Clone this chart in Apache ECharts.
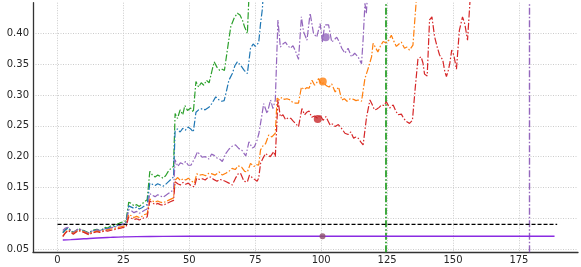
<!DOCTYPE html>
<html>
<head>
<meta charset="utf-8">
<script src="https://cdn.jsdelivr.net/npm/echarts@6/dist/echarts.min.js"></script>
<style>
html,body{margin:0;padding:0;background:#fff;}
#c{width:581px;height:267px;}
</style>
</head>
<body>
<div id="c"></div>
<script>
// ---- data ----
const xTicks = [0, 25, 50, 75, 100, 125, 150, 175];
const yTicks = [0.05, 0.10, 0.15, 0.20, 0.25, 0.30, 0.35, 0.40];

const greenPts = [[2,0.077],[3,0.082],[4,0.085],[5,0.080],[6,0.077],[7,0.080],[8,0.083],[9,0.081],[10,0.080],[11,0.078],[12,0.076],[13,0.080],[14,0.081],[15,0.082],[16,0.080],[17,0.082],[18,0.085],[19,0.084],[20,0.087],[21,0.088],[22,0.089],[23,0.091],[24,0.093],[25,0.094],[26,0.096],[27,0.126],[28,0.124],[29,0.120],[30,0.122],[31,0.119],[32,0.123],[33,0.127],[34,0.130],[35,0.176],[36,0.170],[37,0.167],[38,0.170],[39,0.168],[40,0.165],[41,0.169],[42,0.176],[43,0.181],[44,0.184],[44.6,0.270],[45.5,0.262],[46.5,0.276],[47.5,0.268],[48.3,0.283],[49.3,0.275],[50.5,0.279],[51.5,0.272],[52.5,0.322],[53.5,0.313],[54.5,0.320],[55.5,0.316],[56.5,0.324],[57.5,0.320],[58.5,0.338],[59.4,0.354],[60.5,0.345],[61.5,0.340],[62.5,0.342],[63.3,0.340],[64.4,0.373],[65.7,0.411],[67,0.425],[68.2,0.433],[69.2,0.430],[70.1,0.422],[71,0.410],[72,0.400],[72.6,0.46],[73.5,0.52]];

const bluePts = [[2,0.076],[3,0.081],[4,0.084],[5,0.079],[6,0.076],[7,0.079],[8,0.082],[9,0.080],[10,0.079],[11,0.077],[12,0.075],[13,0.079],[14,0.080],[15,0.081],[16,0.079],[17,0.081],[18,0.083],[19,0.083],[20,0.085],[21,0.086],[22,0.087],[23,0.089],[24,0.090],[25,0.091],[26,0.093],[27,0.120],[28,0.118],[29,0.116],[30,0.118],[31,0.115],[32,0.117],[33,0.120],[34,0.122],[35,0.157],[36,0.155],[37,0.153],[38,0.156],[39,0.154],[40,0.152],[41,0.155],[42,0.159],[43,0.163],[44,0.167],[44.6,0.242],[45.5,0.245],[46.5,0.240],[47.5,0.246],[48.5,0.243],[49.5,0.248],[50.5,0.245],[51.5,0.240],[52.5,0.272],[53.5,0.276],[54.9,0.278],[56,0.276],[57.4,0.280],[58.5,0.286],[60,0.297],[61.3,0.292],[62.3,0.290],[63.2,0.291],[64,0.305],[65,0.324],[66.3,0.335],[67.3,0.348],[68.2,0.354],[69.5,0.348],[70.8,0.340],[72,0.335],[73.2,0.376],[74.2,0.383],[75,0.379],[75.7,0.381],[76.3,0.385],[77,0.416],[77.7,0.44],[78.5,0.5]];

const purplePts = [[2,0.080],[3,0.084],[4,0.085],[5,0.080],[6,0.077],[7,0.080],[8,0.083],[9,0.081],[10,0.079],[11,0.077],[12,0.076],[13,0.079],[14,0.080],[15,0.081],[16,0.080],[17,0.081],[18,0.083],[19,0.082],[20,0.084],[21,0.085],[22,0.086],[23,0.088],[24,0.089],[25,0.090],[26,0.092],[27,0.114],[28,0.112],[29,0.109],[30,0.111],[31,0.108],[32,0.110],[33,0.113],[34,0.115],[35,0.140],[36,0.137],[37,0.135],[38,0.138],[39,0.136],[40,0.134],[41,0.137],[42,0.140],[43,0.143],[44,0.146],[44.6,0.195],[45.6,0.184],[46.6,0.190],[47.6,0.188],[48.6,0.192],[49.6,0.186],[50.6,0.186],[52,0.197],[53.1,0.208],[54,0.203],[54.9,0.199],[56,0.200],[57.4,0.196],[58.4,0.204],[59.4,0.202],[60.4,0.198],[61.3,0.197],[62.5,0.192],[63.8,0.205],[65,0.212],[66.3,0.217],[67.5,0.219],[68.8,0.213],[70,0.210],[71.4,0.201],[72.6,0.224],[73.9,0.214],[74.7,0.216],[75.7,0.227],[76.4,0.238],[77.3,0.262],[78.2,0.286],[79.5,0.270],[80.8,0.292],[81.7,0.278],[82.6,0.292],[83.6,0.422],[84.5,0.378],[85.5,0.383],[86.4,0.386],[87.4,0.380],[88.3,0.376],[89.3,0.380],[90.2,0.372],[91.4,0.358],[92.5,0.427],[93.3,0.403],[94.6,0.389],[95.8,0.433],[97.1,0.400],[98.3,0.394],[99.6,0.416],[100.5,0.386],[101.3,0.414],[102.8,0.414],[104,0.386],[105,0.390],[105.9,0.394],[107,0.385],[107.8,0.376],[109,0.368],[110.2,0.376],[111.5,0.362],[112.7,0.368],[114,0.362],[115.3,0.351],[115.9,0.39],[116.6,0.449],[117.1,0.432],[117.7,0.47]];

const orangePts = [[2,0.071],[3,0.077],[4,0.081],[5,0.078],[6,0.075],[7,0.078],[8,0.081],[9,0.079],[10,0.078],[11,0.076],[12,0.074],[13,0.077],[14,0.078],[15,0.079],[16,0.078],[17,0.079],[18,0.081],[19,0.081],[20,0.082],[21,0.083],[22,0.084],[23,0.085],[24,0.086],[25,0.087],[26,0.088],[27,0.106],[28,0.104],[29,0.101],[30,0.103],[31,0.101],[32,0.103],[33,0.106],[34,0.107],[35,0.131],[36,0.128],[37,0.126],[38,0.128],[39,0.126],[40,0.125],[41,0.127],[42,0.129],[43,0.131],[44,0.133],[44.6,0.162],[45.6,0.166],[46.6,0.161],[47.6,0.164],[48.6,0.162],[49.6,0.165],[50.6,0.161],[51.9,0.157],[52.8,0.172],[53.8,0.170],[55,0.171],[56.2,0.169],[57.4,0.173],[58.6,0.172],[59.8,0.170],[61.3,0.175],[62.5,0.170],[63.8,0.173],[65,0.176],[66.2,0.181],[67.4,0.179],[68.5,0.185],[69.8,0.183],[71,0.176],[72,0.175],[73.2,0.189],[74.5,0.184],[75.5,0.187],[76.3,0.186],[77,0.211],[78,0.218],[78.9,0.221],[80.1,0.235],[81.3,0.232],[82.6,0.238],[83.3,0.295],[84.2,0.292],[85,0.296],[86,0.293],[87,0.294],[88.3,0.292],[89.2,0.288],[90.2,0.287],[91.4,0.287],[92.5,0.313],[93.5,0.309],[94.5,0.312],[95.4,0.311],[96.5,0.324],[97.5,0.316],[98.3,0.320],[99,0.327],[100,0.318],[101,0.320],[102,0.315],[103,0.313],[104,0.318],[105.3,0.305],[106.6,0.313],[107.8,0.292],[108.8,0.294],[109.8,0.290],[111,0.294],[112.3,0.293],[113.2,0.291],[114,0.292],[115.3,0.290],[116.6,0.327],[117.8,0.343],[119.1,0.362],[119.7,0.384],[120.5,0.378],[121.5,0.370],[122.5,0.380],[123.5,0.387],[124.5,0.385],[125.4,0.387],[126.6,0.397],[127.5,0.388],[128.5,0.379],[129.5,0.383],[130.4,0.386],[131.6,0.376],[132.5,0.378],[133.5,0.373],[134.8,0.381],[135.4,0.416],[136,0.45],[136.5,0.5]];

const redPts = [[2,0.070],[3,0.076],[4,0.080],[5,0.077],[6,0.074],[7,0.077],[8,0.080],[9,0.078],[10,0.077],[11,0.075],[12,0.073],[13,0.076],[14,0.077],[15,0.078],[16,0.077],[17,0.078],[18,0.080],[19,0.079],[20,0.080],[21,0.081],[22,0.082],[23,0.083],[24,0.084],[25,0.085],[26,0.086],[27,0.102],[28,0.100],[29,0.098],[30,0.099],[31,0.097],[32,0.099],[33,0.101],[34,0.102],[35,0.128],[36,0.125],[37,0.122],[38,0.124],[39,0.122],[40,0.121],[41,0.123],[42,0.125],[43,0.127],[44,0.129],[44.6,0.159],[45.6,0.156],[46.6,0.154],[47.6,0.158],[48.6,0.155],[49.6,0.157],[50.6,0.153],[51.9,0.151],[52.8,0.165],[53.8,0.163],[55,0.164],[56,0.162],[56.8,0.165],[58,0.167],[59.2,0.163],[60.5,0.160],[61.5,0.163],[62.5,0.162],[63.6,0.160],[65,0.157],[66.3,0.154],[67.5,0.165],[68.5,0.172],[69.4,0.173],[70.7,0.160],[72,0.159],[72.8,0.170],[73.8,0.166],[74.5,0.167],[75.7,0.160],[76.3,0.165],[77,0.189],[78,0.198],[78.9,0.205],[79.8,0.202],[80.7,0.200],[82,0.208],[82.6,0.200],[83.6,0.292],[84.5,0.265],[85.5,0.268],[86.5,0.260],[87.5,0.263],[88.5,0.262],[89.3,0.258],[90.2,0.254],[91.4,0.2485],[92.7,0.278],[93.7,0.268],[94.5,0.272],[95.4,0.274],[96.4,0.264],[97.5,0.266],[98.7,0.262],[99.6,0.268],[100.7,0.259],[101.8,0.265],[102.6,0.258],[103.4,0.251],[104.3,0.253],[105.3,0.249],[106.5,0.252],[107.7,0.246],[109,0.238],[110.2,0.236],[111.2,0.240],[112.3,0.230],[113.2,0.232],[114,0.230],[115,0.224],[115.9,0.219],[117.2,0.264],[118.5,0.292],[119.3,0.285],[120.2,0.276],[121,0.277],[122,0.280],[122.9,0.284],[123.8,0.283],[124.7,0.289],[126,0.279],[127.3,0.284],[128.2,0.275],[129.1,0.268],[130.4,0.269],[131.3,0.262],[132.3,0.257],[133.5,0.254],[134.6,0.259],[135.7,0.313],[136.7,0.359],[137.9,0.362],[138.6,0.352],[139.2,0.334],[140.2,0.331],[141.1,0.422],[142,0.427],[143,0.395],[144,0.378],[144.9,0.365],[146.1,0.357],[146.9,0.338],[147.5,0.330],[148.2,0.340],[148.8,0.352],[149.5,0.373],[150.3,0.365],[151.3,0.342],[152.4,0.405],[153.6,0.427],[154.5,0.415],[155.5,0.389],[156.4,0.45],[157,0.5]];

const basePts = [[2,0.0645],[5,0.0652],[10,0.0665],[15,0.0678],[20,0.0688],[25,0.0696],[30,0.0701],[40,0.0705],[60,0.0707],[100,0.0707],[150,0.0707],[188.5,0.0707]];
const thresholdPts = [[0,0.090],[189.5,0.090]];
const vLines = [124.5, 179];

const purpleDot = [[101.7, 0.394]];
const orangeDot = [[100.6, 0.322]];
const redDot = [[98.7, 0.261]];
const baseDot = [[100.5, 0.0705]];

// ---- chart ----
const FONT = 'DejaVu Sans';
const dashDot = [7, 2, 1.5, 2];
function lineSeries(pts, color, z){
  return {type:'line', data:pts, showSymbol:false, symbol:'none', clip:true, z:z,
    lineStyle:{color:color, width:1.2, type:dashDot}, silent:true};
}
function dot(pts, color, size){
  return {type:'scatter', data:pts, symbol:'circle', symbolSize:size, itemStyle:{color:color}, z:20, silent:true};
}
const xSet = new Set(xTicks.map(v=>Math.round(v*1000)));
const ySet = new Set(yTicks.map(v=>Math.round(v*1000)));
const chart = echarts.init(document.getElementById('c'), null, {renderer:'canvas'});
chart.setOption({
  animation:false,
  backgroundColor:'#ffffff',
  grid:{left:33, right:0, top:2.7, bottom:14.7, containLabel:false},
  xAxis:{type:'value', min:-9.3, max:197.4, minInterval:25, maxInterval:25,
    axisLine:{show:true, lineStyle:{color:'#333333', width:1.3}},
    axisTick:{show:false},
    axisLabel:{color:'#262626', fontFamily:FONT, fontSize:10, margin:3, hideOverlap:false,
      formatter:v=> xSet.has(Math.round(v*1000)) ? String(Math.round(v)) : ''},
    splitLine:{show:true, showMinLine:false, showMaxLine:false, lineStyle:{color:'#cccccc', width:1, type:[1,1.5]}}
  },
  yAxis:{type:'value', min:0.0446, max:0.45, minInterval:0.05, maxInterval:0.05,
    axisLine:{show:true, onZero:false, lineStyle:{color:'#333333', width:1.3}},
    axisTick:{show:false},
    axisLabel:{color:'#262626', fontFamily:FONT, fontSize:10, margin:4, hideOverlap:false,
      formatter:v=> ySet.has(Math.round(v*1000)) ? v.toFixed(2) : ''},
    splitLine:{show:true, showMinLine:false, showMaxLine:false, lineStyle:{color:'#cccccc', width:1, type:[1,1.5]}}
  },
  series:[
    lineSeries(greenPts, '#2ca02c', 5),
    lineSeries(bluePts, '#1f77b4', 6),
    lineSeries(purplePts, '#9467bd', 7),
    lineSeries(orangePts, '#ff7f0e', 8),
    lineSeries(redPts, '#d62728', 9),
    {type:'line', data:thresholdPts, showSymbol:false, symbol:'none', z:10, silent:true,
      lineStyle:{color:'#000000', width:1.2, type:[4,2]}},
    {type:'line', data:basePts, showSymbol:false, symbol:'none', z:10, silent:true, smooth:true,
      lineStyle:{color:'#8a2be2', width:1.4, type:'solid'}},
    {type:'line', data:[], z:11, silent:true,
      markLine:{silent:true, symbol:['none','none'], label:{show:false},
        lineStyle:{color:'#2ca02c', width:1.8, type:dashDot}, data:[{xAxis:vLines[0]}]}},
    {type:'line', data:[], z:11, silent:true,
      markLine:{silent:true, symbol:['none','none'], label:{show:false},
        lineStyle:{color:'#9467bd', width:1.4, type:dashDot}, data:[{xAxis:vLines[1]}]}},
    dot(purpleDot, '#9467bd', 8),
    dot(orangeDot, '#ff7f0e', 8),
    dot(redDot, '#c8282a', 8),
    dot(baseDot, '#8c4f6a', 6)
  ]
});
</script>
</body>
</html>
